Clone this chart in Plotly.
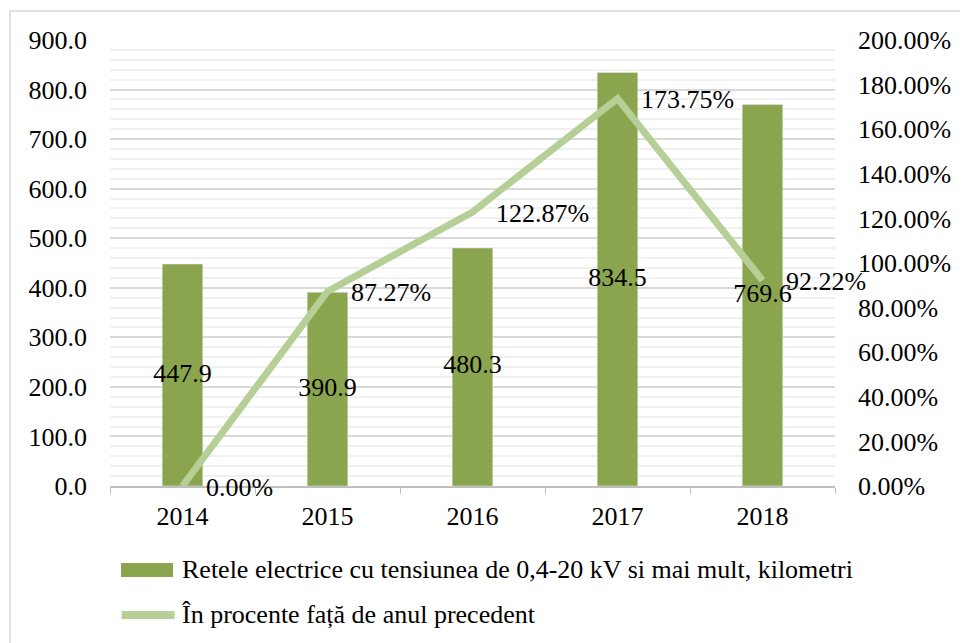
import plotly.graph_objects as go

years = ["2014", "2015", "2016", "2017", "2018"]
km_values = [447.9, 390.9, 480.3, 834.5, 769.6]
pct_values = [0.0, 0.8727, 1.2287, 1.7375, 0.9222]
bar_labels = ["447.9", "390.9", "480.3", "834.5", "769.6"]
pct_labels = ["0.00%", "87.27%", "122.87%", "173.75%", "92.22%"]
left_ticks = [0, 100, 200, 300, 400, 500, 600, 700, 800, 900]
right_ticks = [0, 0.2, 0.4, 0.6, 0.8, 1.0, 1.2, 1.4, 1.6, 1.8, 2.0]

bar_name = "Retele electrice cu tensiunea de 0,4-20 kV si mai mult, kilometri"
line_name = "În procente față de anul precedent"

FONT = "Liberation Serif"
FS = 26
BAR_COLOR = "#8BA54F"
LINE_COLOR = "#B6CF96"

fig = go.Figure()
fig.add_trace(go.Bar(
    x=years, y=km_values, name=bar_name, marker_color=BAR_COLOR,
    width=0.28, yaxis="y", hoverinfo="skip", showlegend=False,
))
fig.add_trace(go.Scatter(
    x=years, y=pct_values, name=line_name, mode="lines",
    line=dict(color=LINE_COLOR, width=7), yaxis="y2", hoverinfo="skip",
    showlegend=False,
))
# bar value labels centred inside bars
fig.add_trace(go.Scatter(
    x=years, y=[v / 2 for v in km_values], mode="text", text=bar_labels,
    textposition="middle center", textfont=dict(family=FONT, size=FS, color="#000"),
    showlegend=False, yaxis="y", hoverinfo="skip",
))

annotations = []
for i, (p, lab) in enumerate(zip(pct_values, pct_labels)):
    annotations.append(dict(
        x=i, y=p, xref="x", yref="y2", text=lab, showarrow=False,
        xanchor="left", yanchor="middle", xshift=21, yshift=-1,
        font=dict(family=FONT, size=FS, color="#000"),
    ))

# legend (drawn below the plot, Excel-style symbols)
annotations.append(dict(x=0.0966, y=-0.188, xref="paper", yref="paper", text=bar_name,
                        showarrow=False, xanchor="left", yanchor="middle",
                        font=dict(family=FONT, size=FS, color="#000")))
annotations.append(dict(x=0.0966, y=-0.287, xref="paper", yref="paper", text=line_name,
                        showarrow=False, xanchor="left", yanchor="middle",
                        font=dict(family=FONT, size=FS, color="#000")))

shapes = [
    dict(type="rect", xref="paper", yref="paper",
         x0=-0.138, x1=1.25, y0=-0.42, y1=1.065,
         line=dict(color="#D9D9D9", width=1.5), fillcolor="rgba(0,0,0,0)",
         layer="below"),
    dict(type="rect", xref="paper", yref="paper",
         x0=0.0152, x1=0.0869, y0=-0.204, y1=-0.1726,
         line=dict(width=0), fillcolor=BAR_COLOR),
    dict(type="line", xref="paper", yref="paper",
         x0=0.016, x1=0.089, y0=-0.289, y1=-0.289,
         line=dict(color=LINE_COLOR, width=8)),
]

fig.update_layout(
    width=960, height=635,
    margin=dict(l=102, r=133, t=32, b=157),
    paper_bgcolor="white", plot_bgcolor="white",
    font=dict(family=FONT, size=FS, color="#000"),
    showlegend=False,
    xaxis=dict(
        type="category", range=[-0.5, 4.5], showline=True, linecolor="#BFBFBF", linewidth=1.5,
        ticks="outside", tickson="boundaries", ticklen=6, tickcolor="#BFBFBF",
        tickfont=dict(family=FONT, size=FS), showgrid=False, tickangle=0,
        ticklabelstandoff=6,
    ),
    yaxis=dict(
        range=[0, 900], tickvals=left_ticks, tickformat=".1f",
        showgrid=True, gridcolor="#D9D9D9", gridwidth=1.5,
        minor=dict(dtick=20, showgrid=True, gridcolor="#F0F0F0", gridwidth=1.5),
        zeroline=False, showline=False, ticks="",
        tickfont=dict(family=FONT, size=FS), ticklabelstandoff=22,
    ),
    yaxis2=dict(
        range=[0, 2.0], tickvals=right_ticks, tickformat=".2%",
        overlaying="y", side="right", showgrid=False, zeroline=False,
        showline=False, ticks="",
        tickfont=dict(family=FONT, size=FS), ticklabelstandoff=22,
    ),
    annotations=annotations,
    shapes=shapes,
)

fig.write_html("out.html")
